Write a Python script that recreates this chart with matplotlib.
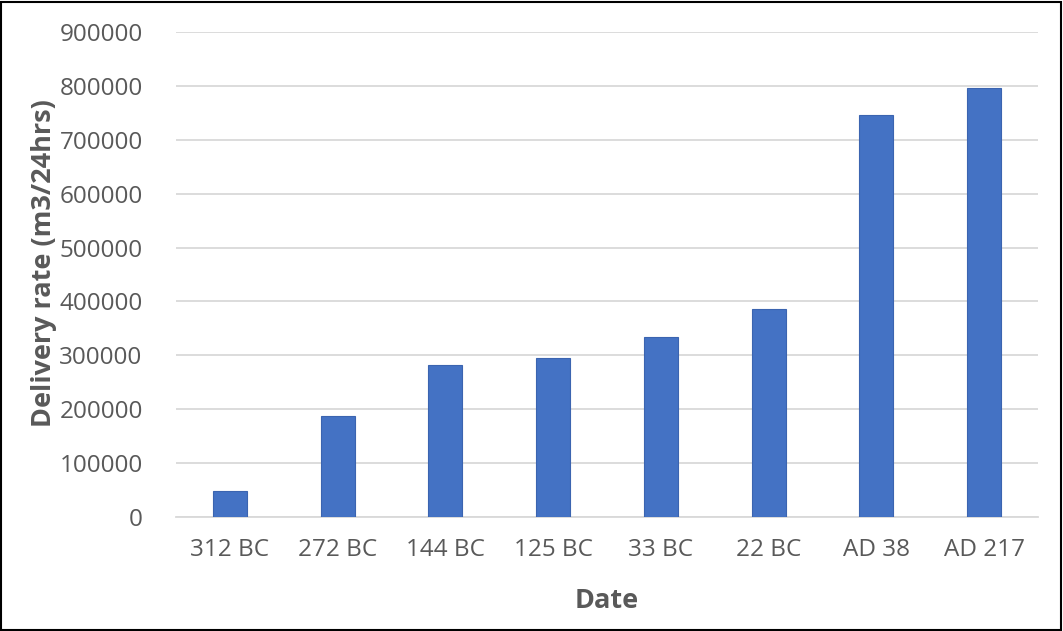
import matplotlib
matplotlib.use('Agg')
import matplotlib.pyplot as plt
from matplotlib.patches import Rectangle

# delivery rate per date
dates = ['312 BC', '272 BC', '144 BC', '125 BC', '33 BC', '22 BC', 'AD 38', 'AD 217']
rates = [48000, 188000, 282000, 295500, 333600, 386400, 746000, 796000]
y_ticks = [0, 100000, 200000, 300000, 400000, 500000, 600000, 700000, 800000, 900000]

plt.rcParams['font.family'] = ['Open Sans', 'DejaVu Sans']
text_color = '#595959'

fig = plt.figure(figsize=(10.63, 6.31), dpi=100)
ax = fig.add_axes([176 / 1063, 1 - 517 / 631, (1038 - 176) / 1063, (517 - 32) / 631])

x = range(len(dates))
ax.bar(x, rates, width=0.315, color='#4472C4', edgecolor='#3b64b0', linewidth=0.8, zorder=3)

ax.set_xlim(-0.5, len(dates) - 0.5)
ax.set_ylim(0, 900000)
ax.set_yticks(y_ticks)
ax.set_yticklabels([str(t) for t in y_ticks])
ax.set_xticks(list(x))
ax.set_xticklabels(dates)

ax.grid(axis='y', color='#d9d9d9', linewidth=1.3, zorder=0)
ax.set_axisbelow(True)
for side in ['top', 'right', 'left']:
    ax.spines[side].set_visible(False)
ax.spines['bottom'].set_color('#d9d9d9')
ax.spines['bottom'].set_linewidth(1.3)

ax.tick_params(axis='both', length=0, labelsize=17.5, colors=text_color)
ax.tick_params(axis='y', pad=24)
ax.tick_params(axis='x', pad=15)

ax.set_xlabel('Date', fontsize=19.5, fontweight='bold', color=text_color, labelpad=19)
ax.set_ylabel('Delivery rate (m3/24hrs)', fontsize=19.5, fontweight='bold', color=text_color)
ax.yaxis.set_label_coords(-0.138, 0.524)

# thin black frame round the whole figure
fig.patches.append(Rectangle((0.001, 0.001), 0.997, 0.996, transform=fig.transFigure,
                             fill=False, edgecolor='black', linewidth=1.5))

fig.savefig('out.png', dpi=100)
